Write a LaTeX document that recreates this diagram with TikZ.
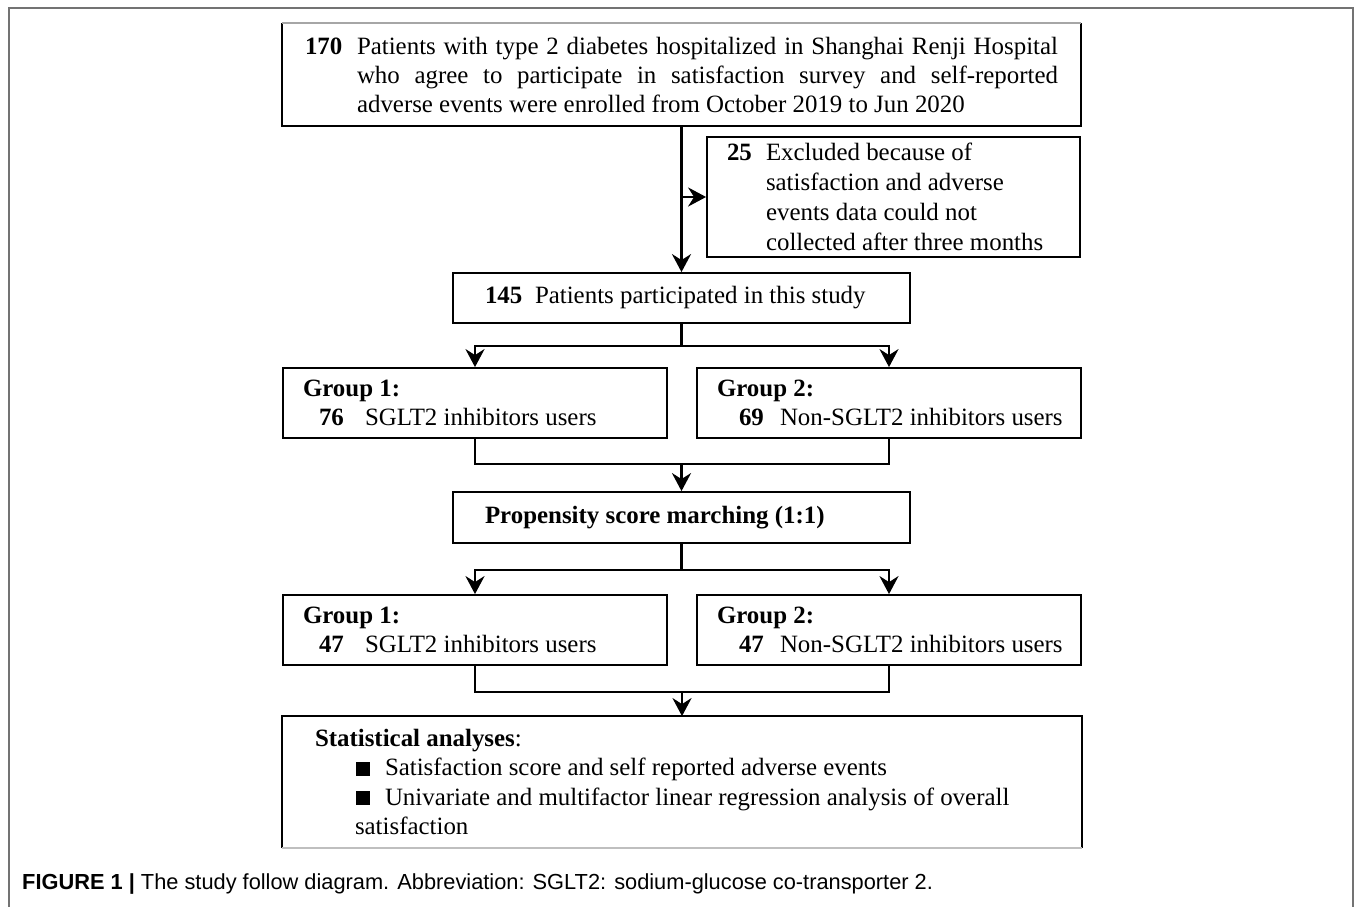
\documentclass[tikz,border=0pt]{standalone}
\usepackage{fontspec}
\setmainfont{Liberation Serif}
\newfontfamily\capfont{Liberation Sans}
\usetikzlibrary{arrows.meta}
\newcommand{\bsq}{\rule{14pt}{14pt}}
\begin{document}
\begin{tikzpicture}[x=1pt,y=-1pt,
  boxst/.style={draw, line width=1.8pt, inner ysep=0pt, align=left,
    font=\fontsize{24.9}{29.5}\selectfont,
    execute at begin node={\spaceskip=0pt\xspaceskip=0pt\relax}},
  grp/.style={boxst, minimum width=384pt, minimum height=70pt, text width=344pt, inner xsep=20pt},
  conn/.style={line width=2.8pt},
  tip/.style={-{Stealth[length=18pt,width=19pt,inset=6pt]}}
]
\useasboundingbox (0,0) rectangle (1355,907);
% outer frame
\draw[line width=2pt, color=black!55] (9,907) -- (9,8) -- (1353,8) -- (1353,907);

% boxes
\node[boxst, draw=none, minimum width=797pt, minimum height=101pt, text width=753pt, inner xsep=22pt,
  font=\fontsize{24.9}{29}\selectfont] (top) at (681.5,74.5)
 {\makebox[52pt][l]{\textbf{170}}\makebox[701pt][s]{Patients with type 2 diabetes hospitalized in Shanghai Renji Hospital}\\
  \hspace*{52pt}\makebox[701pt][s]{who agree to participate in satisfaction survey and self-reported}\\
  \hspace*{52pt}adverse events were enrolled from October 2019 to Jun 2020};
\draw[line width=1.8pt] (top.north west) -- (top.south west) -- (top.south east) -- (top.north east);
\draw[line width=1.8pt, black!35] (top.north west) -- (top.north east);

\node[boxst, minimum width=373pt, minimum height=120pt, text width=333pt, inner xsep=20pt,
  font=\fontsize{24.9}{30}\selectfont] (excl) at (893.5,197)
 {\makebox[39pt][l]{\textbf{25}}Excluded because of\\
  \hspace*{39pt}satisfaction and adverse\\
  \hspace*{39pt}events data could not\\
  \hspace*{39pt}collected after three months};

\node[boxst, minimum width=457pt, minimum height=50pt, text width=393pt, inner xsep=32pt] (p145) at (681.5,298)
 {\makebox[50pt][l]{\textbf{145}}Patients participated in this study};

\node[grp] (g1) at (475,403)
 {\textbf{Group 1:}\\\mbox{\hspace*{16pt}\makebox[46pt][l]{\textbf{76}}SGLT2 inhibitors users}};
\node[grp] (g2) at (889,403)
 {\textbf{Group 2:}\\\mbox{\hspace*{22pt}\makebox[41pt][l]{\textbf{69}}Non-SGLT2 inhibitors users}};

\node[boxst, minimum width=457pt, minimum height=51pt, text width=393pt, inner xsep=32pt] (psm) at (681.5,517.5)
 {\textbf{Propensity score marching (1:1)}};

\node[grp] (h1) at (475,630)
 {\textbf{Group 1:}\\\mbox{\hspace*{16pt}\makebox[46pt][l]{\textbf{47}}SGLT2 inhibitors users}};
\node[grp] (h2) at (889,630)
 {\textbf{Group 2:}\\\mbox{\hspace*{22pt}\makebox[41pt][l]{\textbf{47}}Non-SGLT2 inhibitors users}};

\node[boxst, draw=none, minimum width=798pt, minimum height=130pt, text width=734pt, inner xsep=32pt] (sa) at (682,782)
 {\textbf{Statistical analyses}:\\
  \hspace*{41pt}\bsq\hspace{15pt}Satisfaction score and self reported adverse events\\
  \hspace*{41pt}\bsq\hspace{15pt}Univariate and multifactor linear regression analysis of overall\\
  \hspace*{40pt}satisfaction};
\draw[line width=1.8pt] (sa.south west) -- (sa.north west) -- (sa.north east) -- (sa.south east);
\draw[line width=1.2pt, black!25] (sa.south west) -- (sa.south east);

% connectors
\draw[conn,tip] (top.south) -- (p145.north);
\coordinate (j1) at (top.south |- excl.west);
\draw[conn,tip] (j1) -- (excl.west);

\coordinate (s1) at ([yshift=-22pt]p145.south);
\draw[conn,tip] (s1) -| (g1.north);
\draw[conn,tip] (s1) -| (g2.north);
\draw[conn] (p145.south) -- (s1);

\coordinate (m1) at (psm.north |- 0,464);
\draw[conn] (g1.south) |- (m1) -| (g2.south);
\draw[conn,tip] (m1) -- (psm.north);

\coordinate (s2) at ([yshift=-26pt]psm.south);
\draw[conn,tip] (s2) -| (h1.north);
\draw[conn,tip] (s2) -| (h2.north);
\draw[conn] (psm.south) -- (s2);

\coordinate (m2) at (sa.north |- 0,692);
\draw[conn] (h1.south) |- (m2) -| (h2.south);
\draw[conn,tip] (m2) -- (sa.north);

% caption
\node[anchor=base west, inner sep=0pt, font=\capfont\fontsize{21.8}{26}\selectfont] (cap) at (22,889)
 {\textbf{FIGURE 1 |} The study follow diagram. Abbreviation: SGLT2: sodium-glucose co-transporter 2.};
\end{tikzpicture}
\end{document}
